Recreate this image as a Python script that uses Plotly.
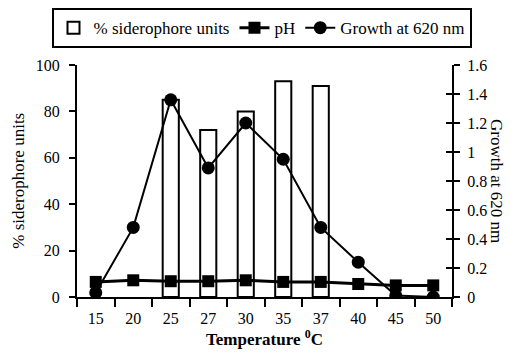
import plotly.graph_objects as go

temperature = ["15", "20", "25", "27", "30", "35", "37", "40", "45", "50"]
siderophore = [None, None, 85, 72, 80, 93, 91, None, None, None]
ph = [6.5, 7.2, 6.8, 6.8, 7.2, 6.5, 6.5, 5.6, 5.0, 5.0]
growth = [0.03, 0.48, 1.36, 0.89, 1.20, 0.95, 0.48, 0.24, 0.01, 0.0]

FONT = "Liberation Serif, Times New Roman, serif"
TICKFONT = dict(family=FONT, size=16, color="black")

fig = go.Figure()
fig.add_trace(go.Bar(
    x=temperature, y=siderophore, name="% siderophore units",
    width=0.43, marker=dict(color="white", line=dict(color="black", width=2)),
    yaxis="y",
))
fig.add_trace(go.Scatter(
    x=temperature, y=ph, name="pH", mode="lines+markers",
    line=dict(color="black", width=3),
    marker=dict(symbol="square", size=12, color="black"),
    yaxis="y",
))
fig.add_trace(go.Scatter(
    x=temperature, y=growth, name="Growth at 620 nm", mode="lines+markers",
    line=dict(color="black", width=2),
    marker=dict(symbol="circle", size=13, color="black"),
    yaxis="y2",
))
# invisible trace to carry overlay axis for inside ticks on right axis
fig.add_trace(go.Scatter(x=temperature, y=growth, yaxis="y3", mode="none",
                         showlegend=False, hoverinfo="skip"))

fig.update_layout(
    width=511, height=353,
    margin=dict(l=77, r=59, t=65, b=56, autoexpand=False),
    paper_bgcolor="white", plot_bgcolor="white",
    font=dict(family=FONT, size=16, color="black"),
    showlegend=True,
    legend=dict(
        orientation="h", x=-0.068, y=1.245, xanchor="left", yanchor="top",
        bordercolor="black", borderwidth=2,
        font=dict(family=FONT, size=17, color="black"),
        itemwidth=30, tracegroupgap=0, traceorder="normal",
    ),
    xaxis=dict(
        type="category", range=[-0.5, 9.5], showgrid=False,
        showline=True, linecolor="black", linewidth=2,
        ticks="outside", ticklen=8, tickwidth=2, tickcolor="black",
        tickson="boundaries", ticklabelstandoff=6,
        title=dict(text="<b>Temperature <sup>0</sup>C</b>",
                   font=dict(family=FONT, size=17, color="black"), standoff=0),
        tickfont=TICKFONT,
    ),
    yaxis=dict(
        range=[0, 100], dtick=20, showgrid=False, zeroline=False,
        showline=True, linecolor="black", linewidth=2,
        ticks="outside", ticklen=6, tickwidth=2, tickcolor="black",
        ticklabelstandoff=6,
        tickfont=TICKFONT,
    ),
    yaxis2=dict(
        range=[0, 1.6], dtick=0.2, overlaying="y", side="right",
        showgrid=False, zeroline=False,
        showline=True, linecolor="black", linewidth=2,
        ticks="outside", ticklen=6, tickwidth=2, tickcolor="black",
        ticklabelstandoff=4,
        tickfont=TICKFONT,
    ),
    yaxis3=dict(
        range=[0, 1.6], dtick=0.2, overlaying="y", side="right",
        showgrid=False, zeroline=False, showline=False,
        ticks="inside", ticklen=6, tickwidth=2, tickcolor="black",
        showticklabels=False,
    ),
    annotations=[
        dict(
            text="Growth at 620 nm", xref="paper", yref="paper",
            x=1.12, y=0.5, textangle=90, showarrow=False,
            font=dict(family=FONT, size=17, color="black"),
            xanchor="center", yanchor="middle",
        ),
        dict(
            text="% siderophore units", xref="paper", yref="paper",
            x=-0.158, y=0.5, textangle=-90, showarrow=False,
            font=dict(family=FONT, size=17, color="black"),
            xanchor="center", yanchor="middle",
        ),
    ],
)

fig.write_html("out.html", config={"displayModeBar": False},
               post_script="document.body.style.margin='0px';")
